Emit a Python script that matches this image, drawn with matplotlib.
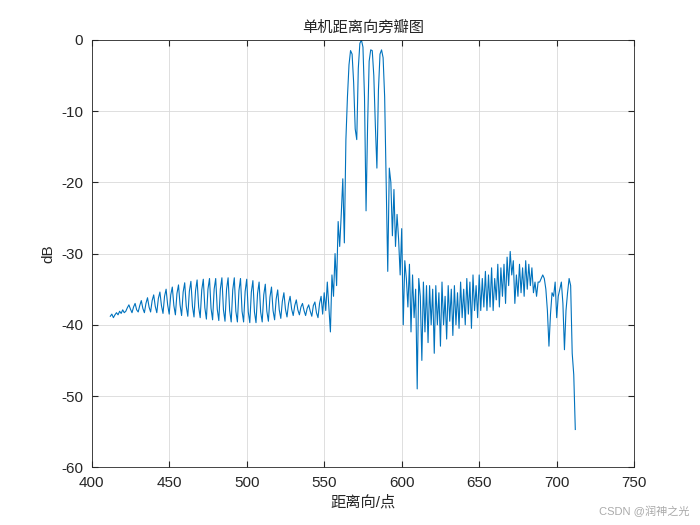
import numpy as np
import matplotlib.pyplot as plt

plt.rcParams['font.family'] = ['Liberation Sans', 'Noto Sans CJK SC', 'DejaVu Sans']
plt.rcParams['axes.unicode_minus'] = False

# side lobes, left of the main peak (x = 412..549)
left_db = [
    -38.8, -38.5, -39.0, -38.6, -38.3, -38.6, -38.1, -38.4, -37.9, -38.3, -38.1, -37.6,
    -37.2, -37.8, -38.3, -37.5, -37.0, -37.9, -38.2, -37.3, -36.6, -37.7, -38.3, -37.0,
    -36.2, -37.5, -38.2, -36.6, -35.8, -37.4, -38.3, -36.3, -35.4, -37.3, -38.4, -36.0,
    -35.0, -37.2, -38.5, -35.8, -34.7, -37.3, -38.6, -35.6, -34.4, -37.2, -38.7, -35.4,
    -34.1, -37.4, -38.8, -35.3, -33.9, -37.4, -38.9, -35.2, -33.7, -37.5, -39.0, -35.1,
    -33.6, -37.6, -39.2, -35.0, -33.5, -37.7, -39.3, -35.0, -33.5, -37.8, -39.4, -35.0,
    -33.4, -37.9, -39.5, -35.0, -33.4, -38.0, -39.6, -35.1, -33.4, -38.1, -39.6, -35.2,
    -33.5, -38.1, -39.6, -35.3, -33.6, -38.2, -39.7, -35.4, -33.8, -38.2, -39.7, -35.6,
    -34.0, -38.2, -39.6, -35.8, -34.3, -38.1, -39.5, -36.1, -34.7, -38.0, -39.3, -36.4,
    -35.1, -37.9, -39.1, -36.7, -35.5, -37.8, -38.9, -37.0, -36.0, -37.8, -38.7, -37.3,
    -36.5, -37.9, -38.6, -37.5, -37.0, -38.0, -38.7, -37.7, -37.2, -38.1, -38.8, -37.3,
    -36.8, -38.3, -39.0, -37.0, -36.0, -38.5,
]
# main lobe (x = 550..599)
main_db = [
    -35.5, -38.0, -34.0, -37.5, -41.0, -33.0, -36.0, -30.0, -34.5, -25.5,
    -29.0, -24.5, -19.5, -28.5, -14.0, -8.0, -3.5, -1.5, -2.0, -6.0,
    -12.5, -14.0, -4.0, -0.5, 0.0, -1.0, -8.0, -24.0, -12.0, -3.0,
    -1.4, -1.5, -5.0, -12.0, -18.0, -7.0, -2.0, -1.4, -2.5, -8.0,
    -20.0, -32.5, -18.0, -20.0, -27.5, -21.0, -29.0, -24.5, -28.0, -33.0,
]
# side lobes, right of the main peak (x = 600..712)
right_db = [
    -26.5, -40.0, -31.0, -33.5, -37.5, -31.5, -41.0, -33.0, -39.0, -35.0,
    -49.0, -33.5, -36.0, -45.0, -34.0, -41.0, -34.5, -42.5, -34.5, -40.0,
    -35.0, -44.0, -34.5, -40.0, -35.5, -43.0, -34.0, -40.0, -36.0, -42.0,
    -34.5, -39.5, -35.0, -41.5, -34.5, -40.0, -35.5, -40.5, -34.0, -39.0,
    -35.0, -40.0, -33.5, -38.5, -34.0, -40.5, -33.0, -38.0, -34.5, -39.0,
    -33.0, -38.0, -33.5, -37.5, -32.5, -38.0, -33.0, -37.5, -32.0, -38.0,
    -33.5, -36.5, -31.5, -37.5, -32.0, -36.0, -31.5, -37.0, -30.5, -34.5,
    -29.7, -33.0, -31.0, -37.0, -33.0, -36.0, -31.5, -35.5, -32.0, -36.0,
    -31.0, -35.0, -31.5, -34.5, -32.0, -35.5, -34.0, -36.0, -34.0, -34.0,
    -33.5, -33.0, -33.5, -35.0, -38.0, -43.0, -38.5, -35.5, -36.0, -34.0,
    -39.0, -36.0, -35.0, -34.0, -37.0, -43.5, -38.0, -35.5, -33.5, -34.5,
    -44.0, -47.0, -54.7,
]
x_start = 412

db = left_db + main_db + right_db
x = np.arange(x_start, x_start + len(db))

fig = plt.figure(figsize=(7, 5.25), dpi=100)
ax = fig.add_axes([0.131, 0.110, 0.775, 0.814])
ax.plot(x, db, color='#0072BD', lw=0.8)
ax.set_xlim(400, 750)
ax.set_ylim(-60, 0)
ax.set_xticks(range(400, 751, 50))
ax.set_yticks(range(-60, 1, 10))
ax.grid(True, color='#d9d9d9', lw=0.6)
ax.tick_params(direction='in', labelsize=11, length=4, pad=6, top=True, right=True,
               labelcolor='#262626', color='#262626')
for s in ax.spines.values():
    s.set_color('#262626')
    s.set_linewidth(0.6)
ax.set_title('单机距离向旁瓣图', fontsize=11, color='#262626')
ax.set_xlabel('距离向/点', fontsize=11, color='#262626')
ax.set_ylabel('dB', fontsize=11, color='#262626')
fig.text(0.985, 0.015, 'CSDN @润神之光', ha='right', va='bottom', fontsize=8, color='#aaaaaa')
fig.savefig('out.png', dpi=100)
